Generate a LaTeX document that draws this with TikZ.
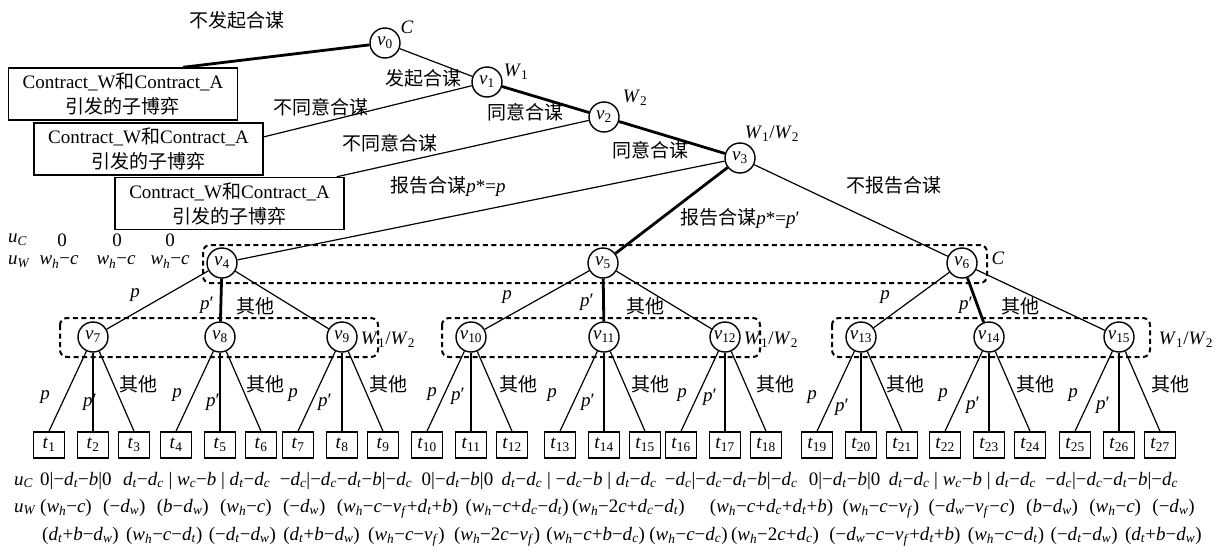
\documentclass[tikz,border=0pt]{standalone}
\usepackage{fontspec}
\setmainfont{Liberation Serif}
\newfontfamily\cjkfont{Noto Sans CJK SC}
\newcommand\zh[1]{{\cjkfont #1}}
\newcommand\xv[1]{\textit{#1}}
\newcommand\xs[2]{\textit{#1}\textsubscript{\textit{#2}}}
\newcommand\xn[2]{\textit{#1}\textsubscript{#2}}
\usetikzlibrary{calc}
\tikzset{
  dec/.style={circle, draw, line width=1.4pt, fill=white, minimum size=30pt, inner sep=0pt},
  leafbox/.style={rectangle, draw, line width=1.6pt, minimum width=31pt, minimum height=26pt, inner sep=0pt},
  subgame/.style={rectangle, draw, line width=1.4pt, fill=white, minimum width=229pt, minimum height=52pt, inner sep=0pt, align=center, font=\fontsize{19}{25}\selectfont},
  thinedge/.style={line width=1.2pt},
  heavy/.style={line width=2.8pt},
  infoset/.style={draw, line width=2pt, dash pattern=on 5pt off 3.5pt, rounded corners=7pt},
  lbl/.style={inner sep=0pt},
  rowtxt/.style={inner sep=0pt, anchor=base west},
}
\newcommand\nextitem[4]{\node[rowtxt] (#1) at ([xshift=#3pt]#2.base east) {#4};}
\begin{document}
\begin{tikzpicture}[x=1pt, y=-1pt, font=\fontsize{19}{22}\selectfont]
\useasboundingbox (0,0) rectangle (1221,557);

% information sets
\draw[infoset] (203,245) rectangle (987,283);
\draw[infoset] (60,318) rectangle (378,357);
\draw[infoset] (442,318) rectangle (760,357);
\draw[infoset] (832,318) rectangle (1150,357);

% decision nodes
\node[dec] (v0) at (385,43) {\xn{v}{0}};
\node[dec] (v1) at (487,82) {\xn{v}{1}};
\node[dec] (v2) at (604,117) {\xn{v}{2}};
\node[dec] (v3) at (740,158) {\xn{v}{3}};
\node[dec] (v4) at (222,263) {\xn{v}{4}};
\node[dec] (v5) at (603,263) {\xn{v}{5}};
\node[dec] (v6) at (962,263) {\xn{v}{6}};
\foreach \k/\x in {7/93,8/220,9/342,10/471,11/604,12/725,13/861,14/989,15/1119}
  \node[dec] (v\k) at (\x,337) {\xn{v}{\k}};

% terminal nodes
\foreach \k/\x in {1/49,2/93,3/134,4/176,5/220,6/261,7/298,8/342,9/383,
                   10/427,11/471,12/512,13/560,14/604,15/645,16/681,17/725,18/766,
                   19/817,20/861,21/902,22/945,23/989,24/1030,25/1075,26/1119,27/1160}
  \node[leafbox] (t\k) at (\x,445) {\xn{t}{\k}};

% sub-games
\node[subgame] (g1) at (123,94) {Contract\_W\zh{和}Contract\_A\\\zh{引发的子博弈}};
\node[subgame] (g2) at (148.5,149) {Contract\_W\zh{和}Contract\_A\\\zh{引发的子博弈}};
\node[subgame] (g3) at (229.5,203.5) {Contract\_W\zh{和}Contract\_A\\\zh{引发的子博弈}};

% upper branches
\draw[heavy] (v0) -- (g1.24);
\draw[thinedge] (v0) -- (v1);
\draw[thinedge] (v1) -- (g2.6);
\draw[heavy] (v1) -- (v2);
\draw[thinedge] (v2) -- (g3.14);
\draw[heavy] (v2) -- (v3);
\draw[thinedge] (v3) -- (v4);
\draw[heavy] (v3) -- (v5);
\draw[thinedge] (v3) -- (v6);

% report stage branches
\foreach \a/\b/\c/\d in {4/7/8/9, 5/10/11/12, 6/13/14/15} {
  \draw[thinedge] (v\a) -- (v\b);
  \draw[heavy] (v\a) -- (v\c);
  \draw[thinedge] (v\a) -- (v\d);
}

% final branches
\foreach \a/\b/\c/\d in {7/1/2/3, 8/4/5/6, 9/7/8/9, 10/10/11/12, 11/13/14/15,
                         12/16/17/18, 13/19/20/21, 14/22/23/24, 15/25/26/27} {
  \draw[thinedge] (v\a) -- (t\b.north);
  \draw[heavy] (v\a) -- (t\c.north);
  \draw[thinedge] (v\a) -- (t\d.north);
}

% player labels
\node[lbl] (pC0) at (407,27) {\xv{C}};
\node[lbl] (pW1) at (516,72) {\xn{W}{1}};
\node[lbl] (pW2) at (635,98) {\xn{W}{2}};
\node[lbl] (pW3) at (772,134) {\xn{W}{1}/\xn{W}{2}};
\node[lbl] (pC6) at (998,258) {\xv{C}};
\node[lbl] (pG1) at (388,340) {\xn{W}{1}/\xn{W}{2}};
\node[lbl] (pG2) at (771,340) {\xn{W}{1}/\xn{W}{2}};
\node[lbl] (pG3) at (1186,340) {\xn{W}{1}/\xn{W}{2}};

% action labels
\node[lbl] (a1) at (237,20) {\zh{不发起合谋}};
\node[lbl] (a2) at (423,78) {\zh{发起合谋}};
\node[lbl] (a3) at (321,107) {\zh{不同意合谋}};
\node[lbl] (a4) at (525,112) {\zh{同意合谋}};
\node[lbl] (a5) at (390,143) {\zh{不同意合谋}};
\node[lbl] (a6) at (650,150) {\zh{同意合谋}};
\node[lbl] (a7) at (448,187) {\zh{报告合谋}\xv{p}*=\xv{p}};
\node[lbl] (a8) at (740,219) {\zh{报告合谋}\xv{p}*=\xv{p}′};
\node[lbl] (a9) at (894,185) {\zh{不报告合谋}};

\foreach \n/\px/\qx/\ox/\py/\qy in {4/135/207/255/295/305, 5/507/587/645/297/302, 6/885/966/1020/297/305} {
  \node[lbl] (bp\n) at (\px,\py) {\xv{p}};
  \node[lbl] (bq\n) at (\qx,\qy) {\xv{p}′};
  \node[lbl] (bo\n) at (\ox,306) {\zh{其他}};
}
\foreach \n/\px/\qx/\ox/\py/\qy in {7/45/90/138/397/402, 8/177/213/265/395/402, 9/293/325/388/395/402,
   10/432/458/518/394/396, 11/552/588/650/395/402, 12/682/710/775/395/397,
   13/812/842/905/397/407, 14/943/973/1035/395/405, 15/1073/1103/1170/395/405} {
  \node[lbl] (cp\n) at (\px,\py) {\xv{p}};
  \node[lbl] (cq\n) at (\qx,\qy) {\xv{p}′};
  \node[lbl] (co\n) at (\ox,384) {\zh{其他}};
}

% payoffs of the three sub-games
\node[lbl, anchor=west] (uC0) at (8,240) {\xs{u}{C}};
\node[lbl, anchor=west] (uW0) at (8,262) {\xs{u}{W}};
\node[lbl] (s1) at (62,240) {0};
\node[lbl] (s2) at (117,240) {0};
\node[lbl] (s3) at (170,240) {0};
\node[lbl] (s4) at (59,262) {\xs{w}{h}−\xv{c}};
\node[lbl] (s5) at (116,262) {\xs{w}{h}−\xv{c}};
\node[lbl] (s6) at (170,262) {\xs{w}{h}−\xv{c}};

% payoffs of the terminal nodes
\node[rowtxt] (uC) at (14,485) {\xs{u}{C}};
\node[rowtxt] (uW) at (14,512) {\xs{u}{W}};

\node[rowtxt] (r1a) at (40,485) {0|−\xs dt−\xv b|0};
\nextitem{r1b}{r1a}{11}{\xs dt−\xs dc | \xs wc−\xv b | \xs dt−\xs dc}
\nextitem{r1c}{r1b}{9}{−\xs dc|−\xs dc−\xs dt−\xv b|−\xs dc}
\nextitem{r1d}{r1c}{9}{0|−\xs dt−\xv b|0}
\nextitem{r1e}{r1d}{8}{\xs dt−\xs dc | −\xs dc−\xv b | \xs dt−\xs dc}
\nextitem{r1f}{r1e}{8}{−\xs dc|−\xs dc−\xs dt−\xv b|−\xs dc}
\nextitem{r1g}{r1f}{11}{0|−\xs dt−\xv b|0}
\nextitem{r1h}{r1g}{8}{\xs dt−\xs dc | \xs wc−\xv b | \xs dt−\xs dc}
\nextitem{r1i}{r1h}{9}{−\xs dc|−\xs dc−\xs dt−\xv b|−\xs dc}

\node[rowtxt] (r2a) at (40,512) {(\xs wh−\xv c)};
\nextitem{r2b}{r2a}{11}{(−\xs dw)}
\nextitem{r2c}{r2b}{11}{(\xv b−\xs dw)}
\nextitem{r2d}{r2c}{11}{(\xs wh−\xv c)}
\nextitem{r2e}{r2d}{11}{(−\xs dw)}
\nextitem{r2f}{r2e}{11}{(\xs wh−\xv c−\xs vf+\xs dt+\xv b)}
\nextitem{r2g}{r2f}{7}{(\xs wh−\xv c+\xs dc−\xs dt)}
\nextitem{r2h}{r2g}{3}{(\xs wh−2\xv c+\xs dc−\xs dt)}
\nextitem{r2i}{r2h}{25}{(\xs wh−\xv c+\xs dc+\xs dt+\xv b)}
\nextitem{r2j}{r2i}{9}{(\xs wh−\xv c−\xs vf)}
\nextitem{r2k}{r2j}{9}{(−\xs dw−\xs vf−\xv c)}
\nextitem{r2l}{r2k}{11}{(\xv b−\xs dw)}
\nextitem{r2m}{r2l}{11}{(\xs wh−\xv c)}
\nextitem{r2n}{r2m}{11}{(−\xs dw)}

\node[rowtxt] (r3a) at (42,540) {(\xs dt+\xv b−\xs dw)};
\nextitem{r3b}{r3a}{7}{(\xs wh−\xv c−\xs dt)}
\nextitem{r3c}{r3b}{6}{(−\xs dt−\xs dw)}
\nextitem{r3d}{r3c}{7}{(\xs dt+\xv b−\xs dw)}
\nextitem{r3e}{r3d}{8}{(\xs wh−\xv c−\xs vf)}
\nextitem{r3f}{r3e}{9}{(\xs wh−2\xv c−\xs vf)}
\nextitem{r3g}{r3f}{6}{(\xs wh−\xv c+\xv b−\xs dc)}
\nextitem{r3h}{r3g}{4}{(\xs wh−\xv c−\xs dc)}
\nextitem{r3i}{r3h}{3}{(\xs wh−2\xv c+\xs dc)}
\nextitem{r3j}{r3i}{10}{(−\xs dw−\xv c−\xs vf+\xs dt+\xv b)}
\nextitem{r3k}{r3j}{7}{(\xs wh−\xv c−\xs dt)}
\nextitem{r3l}{r3k}{6}{(−\xs dt−\xs dw)}
\nextitem{r3m}{r3l}{7}{(\xs dt+\xv b−\xs dw)}
\end{tikzpicture}
\end{document}
